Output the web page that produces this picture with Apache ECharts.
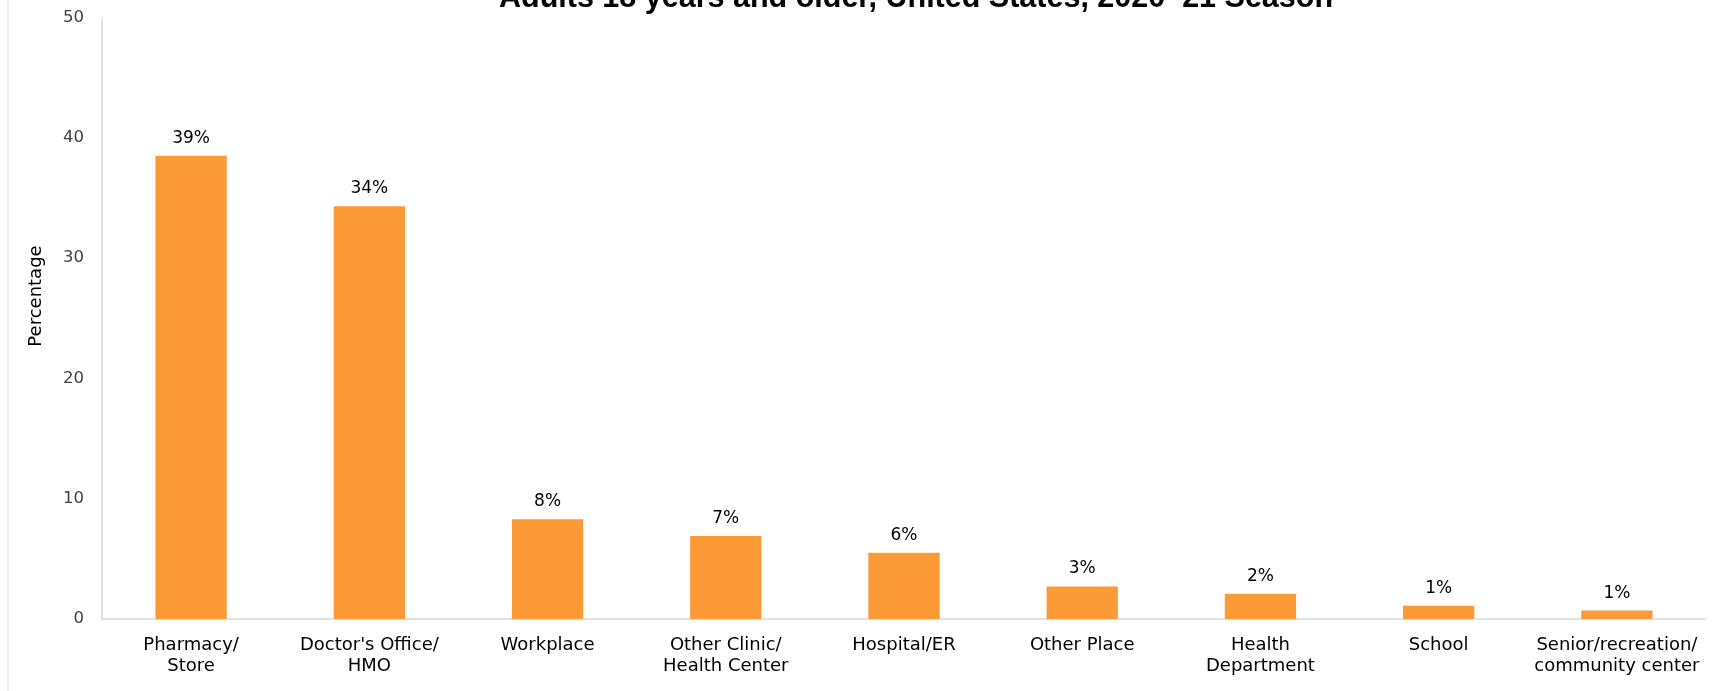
<!DOCTYPE html>
<html>
<head>
<meta charset="utf-8">
<title>Place of vaccination</title>
<script src="https://cdn.jsdelivr.net/npm/echarts@6/dist/echarts.min.js"></script>
<style>
  html, body { margin: 0; padding: 0; background: #fff; }
  #placeChart { width: 1714px; height: 691px; }
</style>
</head>
<body>
<div id="placeChart"></div>
<script>
  'use strict'
	/* data */
	var places = ['Pharmacy/\nStore', "Doctor's Office/\nHMO", 'Workplace', 'Other Clinic/\nHealth Center',
		'Hospital/ER', 'Other Place', 'Health\nDepartment', 'School', 'Senior/recreation/\ncommunity center'];
	var percentValues = [38.5, 34.3, 8.3, 6.9, 5.5, 2.7, 2.1, 1.1, 0.7];
	var yTicks = [0, 10, 20, 30, 40, 50];
	var chartTitle = 'Adults 18 years and older, United States, 2020\u201321 Season';
	var yName = 'Percentage';

	/* placeChart */
	var placeChart = echarts.init(document.getElementById('placeChart'), null, { renderer: 'canvas' });
	placeChart.setOption({
		animation: false,
		textStyle: { fontFamily: 'DejaVu Sans' },
		title: {
			text: chartTitle,
			left: 494,
			top: -22,
			textStyle: {
				fontFamily: 'Liberation Sans',
				fontWeight: 'bold',
				fontSize: 30.5,
				color: '#000'
			}
		},
		graphic: [{
			type: 'rect',
			shape: { x: 8, y: -5, width: 1720, height: 710 },
			style: { fill: 'none', stroke: '#d9d9d9', lineWidth: 1 },
			silent: true
		}, {
			type: 'text',
			x: 36,
			y: 296,
			rotation: Math.PI / 2,
			style: {
				text: yName,
				fontFamily: 'DejaVu Sans',
				fontSize: 18,
				fill: '#000',
				align: 'center',
				verticalAlign: 'middle'
			}
		}],
		grid: {
			left: 102,
			right: 8,
			top: 17.5,
			bottom: 72,
			containLabel: false,
			outerBoundsMode: 'none'
		},
		xAxis: {
			type: 'category',
			data: places,
			axisLine: { lineStyle: { color: '#d9d9d9', width: 1.5 } },
			axisTick: { show: false },
			axisLabel: {
				interval: 0,
				margin: 16,
				fontSize: 18,
				lineHeight: 21,
				color: '#000'
			}
		},
		yAxis: {
			type: 'value',
			min: yTicks[0],
			max: yTicks[yTicks.length - 1],
			interval: 10,
			splitLine: { show: false },
			axisLine: { show: true, lineStyle: { color: '#d9d9d9', width: 1.5 } },
			axisTick: { show: false },
			axisLabel: {
				margin: 18,
				fontSize: 16.5,
				color: '#404040'
			}
		},
		series: [{
			name: yName,
			type: 'bar',
			data: percentValues,
			barWidth: '40%',
			itemStyle: { color: '#fd9a38' },
			label: {
				show: true,
				position: 'top',
				distance: 9,
				fontSize: 17,
				color: '#000',
				formatter: function (p) { return Math.round(p.value) + '%'; }
			}
		}]
	});
	/* placeChart closed */
</script>
</body>
</html>
